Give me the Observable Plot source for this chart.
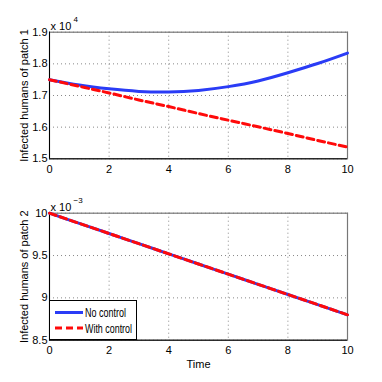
<!DOCTYPE html>
<html><head><meta charset="utf-8">
<script src="https://cdn.jsdelivr.net/npm/d3@7"></script>
<script src="https://cdn.jsdelivr.net/npm/@observablehq/plot@0.6"></script>
<style>
body{margin:0;background:#fff;font-family:"Liberation Sans",Arial,sans-serif;}
#wrap{position:relative;width:382px;height:382px;}
#legend{position:absolute;left:49px;top:300px;}
</style></head>
<body><div id="wrap"><div id="top"></div><div id="bot"></div><div id="legend"></div></div>
<script>
const time = [0,1,2,3,4,5,6,7,8,9,10];
const noControl1 = [1.750,1.733,1.721,1.713,1.711,1.716,1.728,1.746,1.772,1.801,1.834];
const withControl1 = [1.750,1.729,1.708,1.686,1.665,1.643,1.622,1.601,1.580,1.558,1.537];
const noControl2 = [10,9.88,9.76,9.64,9.52,9.40,9.28,9.16,9.04,8.92,8.80];
const withControl2 = [10,9.88,9.76,9.64,9.52,9.40,9.28,9.16,9.04,8.92,8.80];
const xTicks = [0,2,4,6,8,10];
const yTicks1 = [1.5,1.6,1.7,1.8,1.9];
const yTicks2 = [8.5,9,9.5,10];
const seriesNames = ["No control","With control"];
const yLabels = ["Infected humans of patch 1","Infected humans of patch 2"];
const expLabels = [["x 10","4"],["x 10","\u22123"]];

const BLUE = "#2a3cf6", RED = "#ff0a0a";
const font = "Liberation Sans, Arial, sans-serif";

function panel(a, b, yDom, yTicks, ylab, exp, opts) {
  const da = time.map((t,i)=>({t, v:a[i]}));
  const db = time.map((t,i)=>({t, v:b[i]}));
  return Plot.plot({
    width: 382, height: opts.height,
    marginLeft: 49, marginRight: 35, marginTop: opts.mt, marginBottom: opts.mb,
    style: {fontFamily: font, fontSize: "11px", color: "#000", background: "#fff"},
    x: {domain: [0,10]},
    y: {domain: yDom},
    marks: [
      Plot.ruleX(xTicks, {stroke: "#888", strokeDasharray: "1,3", strokeWidth: 1}),
      Plot.ruleY(yTicks, {stroke: "#888", strokeDasharray: "1,3", strokeWidth: 1}),
      Plot.frame({stroke: "#777", strokeWidth: 1.2}),
      Plot.axisX({ticks: xTicks, tickSize: 0, tickPadding: 6, tickFormat: d=>String(d), label: opts.xlabel, labelAnchor: "center", labelArrow: "none", labelOffset: 28, fontSize: 11}),
      Plot.axisY({ticks: yTicks, tickSize: 0, tickPadding: 2, tickFormat: d=>String(d), label: ylab, labelAnchor: "center", labelOffset: 29, labelArrow: "none", fontSize: 11}),
      Plot.ruleX([0], {stroke: "#000", strokeWidth: 1}),
      Plot.ruleY([yDom[0]], {stroke: "#000", strokeWidth: 1}),
      Plot.line(da, {x: "t", y: "v", stroke: BLUE, strokeWidth: 3, curve: "natural"}),
      Plot.line(db, {x: "t", y: "v", stroke: RED, strokeWidth: 3, strokeDasharray: "7,4", curve: "natural"}),
      Plot.text([exp[0]], {frameAnchor: "top-left", text: d=>d, dy: -10, dx: 1, fontSize: 11, textAnchor: "start"}),
      Plot.text([exp[1]], {frameAnchor: "top-left", text: d=>d, dy: -16, dx: 24, fontSize: 8, textAnchor: "start"})
    ]
  });
}

document.getElementById("top").append(panel(noControl1, withControl1, [1.5,1.9], yTicks1, yLabels[0], expLabels[0], {height:190, mt:31.7, mb:31.7, xlabel: null}));
document.getElementById("bot").append(panel(noControl2, withControl2, [8.5,10], yTicks2, yLabels[1], expLabels[1], {height:192, mt:22.7, mb:42.3, xlabel: "Time"}));

// legend
const lg = d3.select("#legend").append("svg").attr("width", 130).attr("height", 40).style("overflow","visible");
lg.append("rect").attr("x",0.5).attr("y",0.5).attr("width",87).attr("height",39).attr("fill","#fff").attr("stroke","#000");
const cols = [BLUE, RED], dashes = [null, "7,4"], widths = [41, 47];
seriesNames.forEach((n,i)=>{
  const y = 12.5 + i*15.5;
  lg.append("line").attr("x1",6).attr("x2",34).attr("y1",y).attr("y2",y).attr("stroke",cols[i]).attr("stroke-width",3).attr("stroke-dasharray",dashes[i]);
  lg.append("text").attr("x",36).attr("y",y+4.5).attr("textLength",widths[i]).attr("lengthAdjust","spacingAndGlyphs").text(n).style("font-size","12.5px").style("font-family",font);
});
</script></body></html>
